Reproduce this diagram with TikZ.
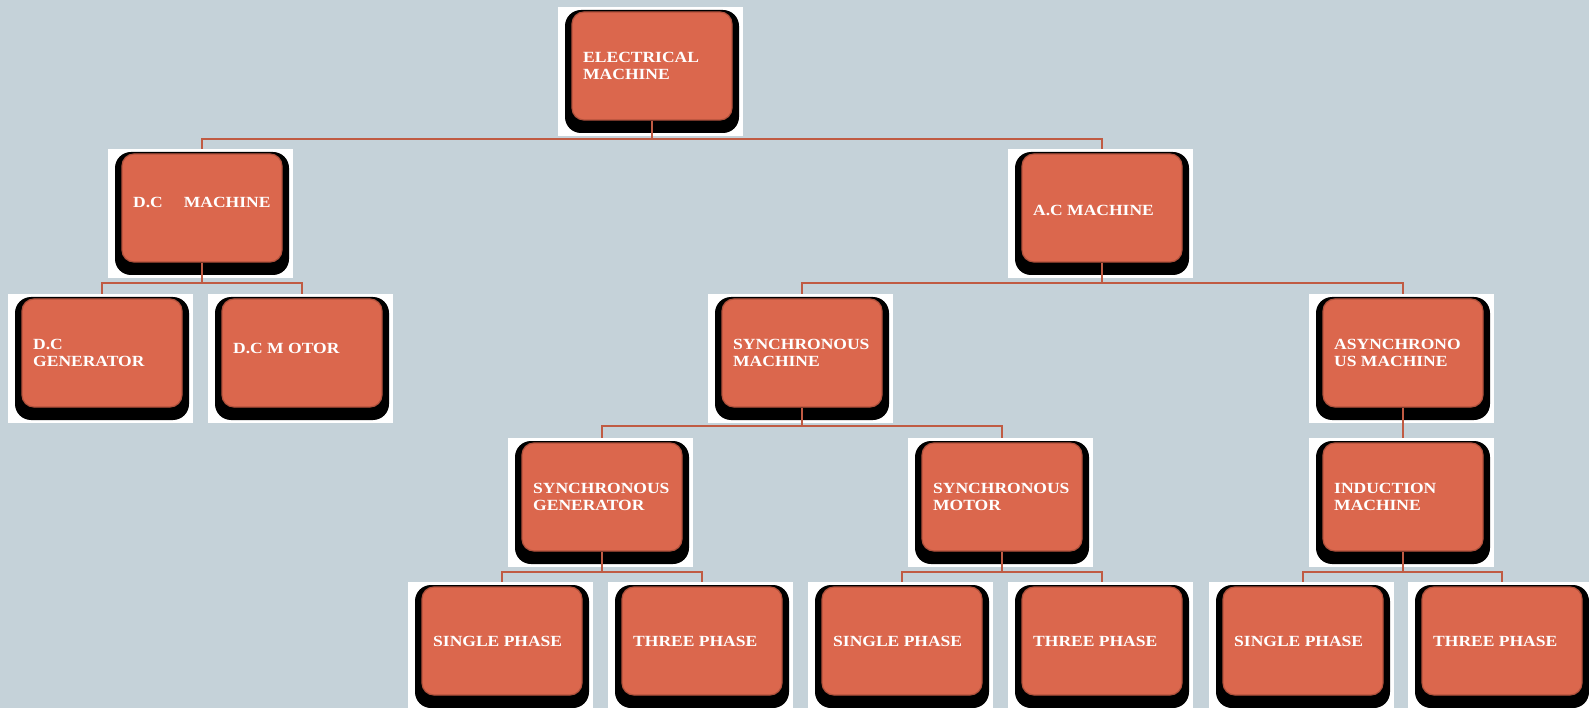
\documentclass[tikz,border=0pt]{standalone}
\usepackage{fontspec}
\newfontfamily\boxfont{Liberation Serif}[FakeStretch=1.13]
\definecolor{bgc}{HTML}{C5D2D9}
\definecolor{boxc}{HTML}{DB674D}
\definecolor{rimc}{HTML}{B0513C}
\definecolor{linec}{HTML}{C05B43}
\tikzset{
  wbox/.style={fill=white, draw=none, minimum width=185pt, minimum height=129pt, inner sep=0pt},
  sbox/.style={fill=black, draw=none, rounded corners=16pt, minimum width=174pt, minimum height=123pt, inner sep=0pt},
  obox/.style={fill=boxc, draw=rimc, line width=1.2pt, rounded corners=12pt, minimum width=160pt, minimum height=108pt, inner sep=0pt},
  txt/.style={text=white, font=\boxfont\bfseries\fontsize{15.5}{16.5}\selectfont, align=left, inner sep=0pt, anchor=west},
  conn/.style={draw=linec, line width=1.9pt},
}
\newcommand\mnode[5][0]{%
  \node[wbox] (#2w) at ({#3-1.5},{#4+5.5}) {};
  \node[sbox] (#2s) at (#3,{#4+5.5}) {};
  \node[obox] (#2) at (#3,#4) {};
  \node[txt] (#2t) at ({#3-69},{#4+#1}) {#5};
}
\begin{document}
\begin{tikzpicture}[x=1pt,y=-1pt]
\useasboundingbox (0,0) rectangle (1589,708);
\clip (0,0) rectangle (1589,708);
\fill[bgc] (0,0) rectangle (1589,708);
\mnode{em}{652}{66}{ELECTRICAL\\MACHINE}
\mnode[-6]{dcm}{202}{208}{D.C\hspace{21pt}MACHINE}
\mnode[2]{acm}{1102}{208}{A.C MACHINE}
\mnode{dcg}{102}{353}{D.C\\GENERATOR}
\mnode[-5]{dcmot}{302}{353}{D.C M OTOR}
\mnode{sm}{802}{353}{SYNCHRONOUS\\MACHINE}
\mnode{asm}{1403}{353}{ASYNCHRONO\\US MACHINE}
\mnode{sg}{602}{497}{SYNCHRONOUS\\GENERATOR}
\mnode{smot}{1002}{497}{SYNCHRONOUS\\MOTOR}
\mnode{im}{1403}{497}{INDUCTION\\MACHINE}
\mnode{spa}{502}{641}{SINGLE PHASE}
\mnode{tpa}{702}{641}{THREE PHASE}
\mnode{spb}{902}{641}{SINGLE PHASE}
\mnode{tpb}{1102}{641}{THREE PHASE}
\mnode{spc}{1303}{641}{SINGLE PHASE}
\mnode{tpc}{1502}{641}{THREE PHASE}
% connectors
\draw[conn] (em.south) -- ++(0,18) -| (dcm.north |- dcmw.north);
\draw[conn] (em.south) -- ++(0,18) -| (acm.north |- acmw.north);
\draw[conn] (dcm.south) -- ++(0,20) -| (dcg.north |- dcgw.north);
\draw[conn] (dcm.south) -- ++(0,20) -| (dcmot.north |- dcmotw.north);
\draw[conn] (acm.south) -- ++(0,20) -| (sm.north |- smw.north);
\draw[conn] (acm.south) -- ++(0,20) -| (asm.north |- asmw.north);
\draw[conn] (sm.south) -- ++(0,18) -| (sg.north |- sgw.north);
\draw[conn] (sm.south) -- ++(0,18) -| (smot.north |- smotw.north);
\draw[conn] (asm.south) -- (im.north |- imw.north);
\draw[conn] (sg.south) -- ++(0,20) -| (spa.north |- spaw.north);
\draw[conn] (sg.south) -- ++(0,20) -| (tpa.north |- tpaw.north);
\draw[conn] (smot.south) -- ++(0,20) -| (spb.north |- spbw.north);
\draw[conn] (smot.south) -- ++(0,20) -| (tpb.north |- tpbw.north);
\draw[conn] (im.south) -- ++(0,20) -| (spc.north |- spcw.north);
\draw[conn] (im.south) -- ++(0,20) -| (tpc.north |- tpcw.north);
\end{tikzpicture}
\end{document}
